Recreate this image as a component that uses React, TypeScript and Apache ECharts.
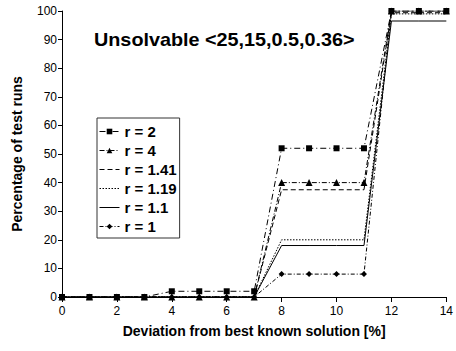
import React, { useEffect, useRef } from "react";
import * as echarts from "echarts";

const xValues = [0, 1, 2, 3, 4, 5, 6, 7, 8, 9, 10, 11, 12, 13, 14];
const r2 = [0, 0, 0, 0, 2, 2, 2, 2, 52, 52, 52, 52, 100, 100, 100];
const r4 = [0, 0, 0, 0, 0, 0, 0, 0, 40, 40, 40, 40, 100, 100, 100];
const r141 = [0, 0, 0, 0, 0, 0, 0, 0, 37.5, 37.5, 37.5, 37.5, 99.4, 99.4, 99.4];
const r119 = [0, 0, 0, 0, 0, 0, 0, 0, 20, 20, 20, 20, 99, 99, 99];
const r11 = [0, 0, 0, 0, 0, 0, 0, 0, 18, 18, 18, 18, 96.5, 96.5, 96.5];
const r1 = [0, 0, 0, 0, 0, 0, 0, 0, 8, 8, 8, 8, 100, 100, 100];
const seriesNames = ["r = 2", "r = 4", "r = 1.41", "r = 1.19", "r = 1.1", "r = 1"];
const titleText = "Unsolvable <25,15,0.5,0.36>";
const xAxisName = "Deviation from best known solution [%]";
const yAxisName = "Percentage of test runs";

const FONT = 'Arial, "Liberation Sans", sans-serif';

export default function App() {
  const ref = useRef<HTMLDivElement>(null);
  useEffect(() => {
    if (!ref.current) return;
    const chart = echarts.init(ref.current, undefined, { renderer: "svg" });
    const pairs = (ys: number[]) => xValues.map((x, i) => [x, ys[i]]);
    const mk = (
      name: string,
      ys: number[],
      symbol: string,
      symbolSize: number,
      type: any,
      z: number
    ) => ({
      name,
      type: "line",
      data: pairs(ys),
      symbol,
      symbolSize,
      showSymbol: symbol !== "none",
      z,
      itemStyle: { color: "#000" },
      lineStyle: { color: "#000", width: 1, type },
    });
    const hasMarker = [true, true, false, false, false, true];
    chart.setOption({
      animation: false,
      backgroundColor: "#fff",
      textStyle: { fontFamily: FONT },
      grid: { left: 62, right: 6, top: 11, bottom: 54, containLabel: false },
      graphic: [
        {
          type: "text",
          x: 94,
          y: 31,
          scaleX: 1.1,
          style: {
            text: titleText,
            font: `bold 18px ${FONT}`,
            fill: "#000",
          },
        },
      ],
      legend: {
        orient: "vertical",
        left: 97,
        top: 118,
        padding: [5, 3, 3, 2],
        itemWidth: 20,
        itemHeight: 7,
        itemGap: 2,
        backgroundColor: "#fff",
        borderColor: "#333",
        borderWidth: 1,
        borderRadius: 0,
        lineStyle: { width: 1 },
        textStyle: {
          fontFamily: FONT,
          fontSize: 15,
          fontWeight: "bold",
          color: "#000",
          lineHeight: 17,
        },
        data: seriesNames.map((n, i) =>
          hasMarker[i] ? { name: n } : { name: n, itemStyle: { opacity: 0 } }
        ),
      },
      xAxis: {
        type: "value",
        min: 0,
        max: 14,
        interval: 2,
        name: xAxisName,
        nameLocation: "middle",
        nameGap: 27,
        nameTextStyle: { fontFamily: FONT, fontSize: 14, fontWeight: "bold", color: "#000" },
        axisLine: { lineStyle: { color: "#000", width: 1 } },
        axisTick: { show: true, inside: false, length: 5, lineStyle: { color: "#000" } },
        axisLabel: { fontFamily: FONT, fontSize: 12, color: "#000", margin: 8 },
        splitLine: { show: false },
      },
      yAxis: {
        type: "value",
        min: 0,
        max: 100,
        interval: 10,
        name: yAxisName,
        nameLocation: "middle",
        nameGap: 38,
        nameTextStyle: { fontFamily: FONT, fontSize: 14, fontWeight: "bold", color: "#000" },
        axisLine: { show: true, lineStyle: { color: "#000", width: 1 } },
        axisTick: { show: true, inside: false, length: 4, lineStyle: { color: "#000" } },
        axisLabel: { fontFamily: FONT, fontSize: 12, color: "#000", margin: 5 },
        splitLine: { show: false },
      },
      series: [
        mk(seriesNames[0], r2, "rect", 6, [6, 3, 1, 3], 8),
        mk(seriesNames[1], r4, "triangle", 7, [5, 2, 1, 2], 7),
        mk(seriesNames[2], r141, "none", 0, [5, 3], 6),
        mk(seriesNames[3], r119, "none", 0, [1.5, 1.5], 5),
        mk(seriesNames[4], r11, "none", 0, "solid", 4),
        mk(seriesNames[5], r1, "diamond", 6, [4, 2, 1, 2], 3),
      ],
    });
    return () => chart.dispose();
  }, []);
  return (
    <div
      ref={ref}
      style={{ position: "absolute", left: 0, top: 0, width: 456, height: 351 }}
    />
  );
}
